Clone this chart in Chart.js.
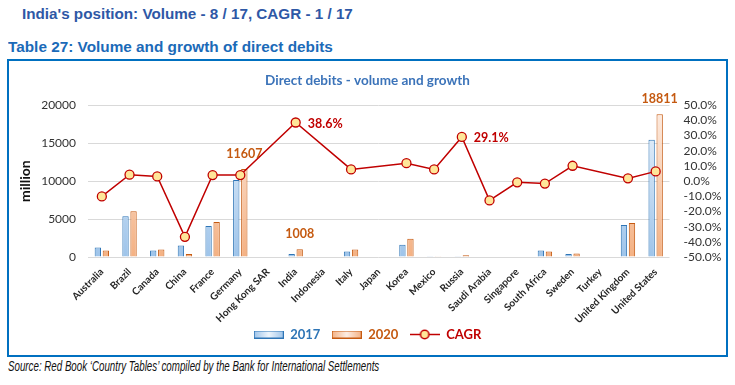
<!DOCTYPE html>
<html>
<head>
<meta charset="utf-8">
<script src="https://cdn.jsdelivr.net/npm/chart.js@4"></script>
<style>
  html, body { margin:0; padding:0; background:#fff; }
  body { width:735px; height:385px; position:relative; overflow:hidden; }
  .txt { position:absolute; white-space:nowrap; transform-origin:left center; font-family:"Liberation Sans", Arial, sans-serif; }
  #h1 { left:22px; top:5px; font-size:15px; font-weight:bold; color:#2E58A6; }
  #h2 { left:8px; top:38px; font-size:15px; font-weight:bold; color:#1B6AB8; }
  #src { left:8px; top:358px; font-size:14px; font-style:italic; color:#111; }
  #box { position:absolute; left:7px; top:59px; width:721px; height:298px; box-sizing:border-box; border:2px solid #0070C0; }
  #c { position:absolute; left:0; top:0; }
</style>
</head>
<body>
<div id="h1" class="txt">India's position: Volume - 8 / 17, CAGR - 1 / 17</div>
<div id="h2" class="txt">Table 27: Volume and growth of direct debits</div>
<div id="box"><canvas id="c" width="717" height="294"></canvas></div>
<div id="src" class="txt">Source: Red Book ‘Country Tables’ compiled by the Bank for International Settlements</div>
<script>
// data
const countries = ['Australia','Brazil','Canada','China','France','Germany','Hong Kong SAR','India',
  'Indonesia','Italy','Japan','Korea','Mexico','Russia','Saudi Arabia','Singapore','South Africa',
  'Sweden','Turkey','United Kingdom','United States'];
const vol2017 = [1250, 5380, 860, 1500, 4090, 10150, null, 390, null, 730, null, 1630, 90, 90, null, 80, 860, 390, null, 4220, 15440];
const vol2020 = [860, 6020, 990, 390, 4600, 11607, null, 1008, null, 990, null, 2410, 100, 220, null, 80, 730, 470, null, 4470, 18811];
const cagr = [-10.1, 4.2, 3.1, -36.7, 4.0, 4.0, null, 38.6, null, 7.7, null, 11.8, 7.7, 29.1, -12.7, -0.8, -1.6, 10.1, null, 1.8, 6.4];
const volTicks = [0, 5000, 10000, 15000, 20000];
const cagrTicks = [-50, -40, -30, -20, -10, 0, 10, 20, 30, 40, 50];
const barLabelAt = ['Germany', 'India', 'United States'];
const cagrLabelAt = ['India', 'Russia'];

// squeeze heading texts to the widths seen in the reference
function fitText(id, w){
  const el = document.getElementById(id);
  el.style.transform = 'scaleX(' + (w / el.offsetWidth) + ')';
}
fitText('h1', 331);
fitText('h2', 325);
fitText('src', 371);

Chart.defaults.font.family = 'Lato, "Open Sans", sans-serif';
Chart.defaults.color = '#333';

const BLUE = '#2E75B6', ORANGE = '#C55A11', RED = '#C00000', DOT = '#FFE699';

function vGrad(ctx, c1, c2){
  const area = ctx.chart.chartArea;
  if (!area) return c2;
  const g = ctx.chart.ctx.createLinearGradient(0, area.top, 0, area.bottom);
  g.addColorStop(0, c1);
  g.addColorStop(1, c2);
  return g;
}

// small images for the legend markers
function barSwatch(c1, c2, border){
  const cv = document.createElement('canvas');
  cv.width = 30; cv.height = 8;
  const x = cv.getContext('2d');
  const g = x.createLinearGradient(0, 0, 30, 0);
  g.addColorStop(0, c2); g.addColorStop(0.5, c1); g.addColorStop(1, c2);
  x.fillStyle = g; x.fillRect(0.5, 0.5, 29, 7);
  x.strokeStyle = border; x.lineWidth = 1; x.strokeRect(0.5, 0.5, 29, 7);
  return cv;
}
function lineSwatch(){
  const cv = document.createElement('canvas');
  cv.width = 30; cv.height = 11;
  const x = cv.getContext('2d');
  x.strokeStyle = RED; x.lineWidth = 1.5;
  x.beginPath(); x.moveTo(0, 5.5); x.lineTo(30, 5.5); x.stroke();
  x.beginPath(); x.arc(15, 5.5, 4.2, 0, Math.PI*2);
  x.fillStyle = DOT; x.fill(); x.stroke();
  return cv;
}

const valueLabels = {
  id: 'valueLabels',
  afterDatasetsDraw(chart){
    const ctx = chart.ctx;
    ctx.save();
    ctx.font = 'bold 12.5px Lato, sans-serif';
    ctx.textBaseline = 'middle';
    const bars = chart.getDatasetMeta(2).data;
    ctx.fillStyle = ORANGE; ctx.textAlign = 'center';
    barLabelAt.forEach(n => {
      const i = countries.indexOf(n);
      const b = bars[i];
      ctx.fillText(String(vol2020[i]), b.x, b.y - 15);
    });
    const pts = chart.getDatasetMeta(0).data;
    ctx.fillStyle = RED; ctx.textAlign = 'left';
    cagrLabelAt.forEach(n => {
      const i = countries.indexOf(n);
      const p = pts[i];
      ctx.fillText(cagr[i].toFixed(1) + '%', p.x + 12, p.y + 1);
    });
    ctx.restore();
  }
};

new Chart(document.getElementById('c'), {
  type: 'bar',
  data: {
    labels: countries,
    datasets: [
      {type:'line', label:'CAGR', data:cagr, yAxisID:'y1', borderColor:RED, borderWidth:1.5,
        pointRadius:4.5, pointBackgroundColor:DOT, pointBorderColor:RED, pointBorderWidth:1.3,
        spanGaps:true, tension:0},
      {label:'2017', data:vol2017, yAxisID:'y', borderColor:BLUE, borderWidth:1,
        backgroundColor: c => vGrad(c, '#EEF5FC', '#9EC4EA'),
        categoryPercentage:0.58, barPercentage:0.79},
      {label:'2020', data:vol2020, yAxisID:'y', borderColor:ORANGE, borderWidth:1,
        backgroundColor: c => vGrad(c, '#FDEDE3', '#F4B183'),
        categoryPercentage:0.58, barPercentage:0.79}
    ]
  },
  options: {
    responsive:false,
    devicePixelRatio:1,
    animation:false,
    layout:{padding:{left:0, right:0, top:0, bottom:4}},
    plugins:{
      tooltip:{enabled:false},
      title:{display:true, text:'Direct debits - volume and growth', color:'#3B73B9',
        font:{size:13.5, weight:'bold'}, padding:{top:12, bottom:16}},
      legend:{
        position:'bottom',
        labels:{
          usePointStyle:true, pointStyleWidth:30, padding:5,
          font:{size:13, weight:'bold'},
          generateLabels: () => [
            {text:'2017  ', pointStyle:barSwatch('#EEF5FC', '#9EC4EA', BLUE), fontColor:BLUE, datasetIndex:1, lineWidth:0},
            {text:'2020  ', pointStyle:barSwatch('#FDEDE3', '#F4B183', ORANGE), fontColor:ORANGE, datasetIndex:2, lineWidth:0},
            {text:'CAGR', pointStyle:lineSwatch(), fontColor:RED, datasetIndex:0, lineWidth:0}
          ]
        }
      }
    },
    scales:{
      x:{
        grid:{display:false}, border:{display:false},
        ticks:{autoSkip:false, minRotation:45, maxRotation:45, padding:1, color:'#262626',
          font:{size:10, weight:'bold'}},
        afterFit: s => { s.height = 66; }
      },
      y:{
        position:'left', min:0, max:20000,
        afterBuildTicks: s => { s.ticks = volTicks.map(v => ({value:v})); },
        grid:{color:'#D9D9D9', drawTicks:false}, border:{display:false},
        ticks:{padding:12, color:'#333', font:{size:12}, callback: v => String(v)},
        title:{display:true, text:'million', color:'#111', font:{size:14, weight:'bold'}, padding:{top:8, bottom:0}},
        afterFit: s => { s.width = 79; }
      },
      y1:{
        position:'right', min:-50, max:50,
        afterBuildTicks: s => { s.ticks = cagrTicks.map(v => ({value:v})); },
        grid:{display:false, drawTicks:false}, border:{display:false},
        ticks:{autoSkip:false, padding:14, color:'#333', font:{size:12}, callback: v => v.toFixed(1) + '%'},
        afterFit: s => { s.width = 56.5; }
      }
    }
  },
  plugins:[valueLabels]
});
</script>
</body>
</html>
